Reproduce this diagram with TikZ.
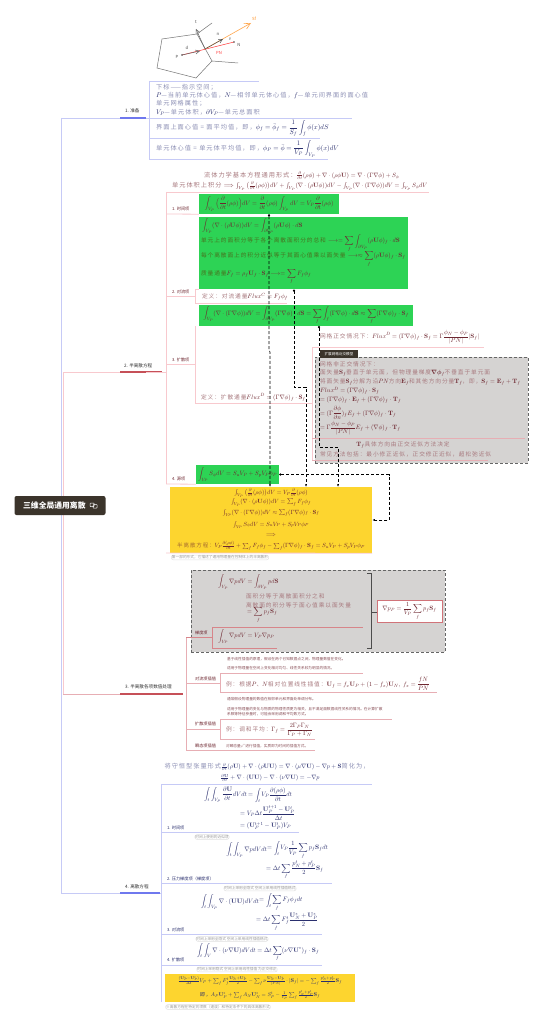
\documentclass[tikz,border=0pt]{standalone}
\usepackage{amsmath}
\usepackage[no-math]{fontspec}
\setmainfont[LetterSpace=16]{Noto Sans CJK SC}
\newfontfamily\plainf{Noto Sans CJK SC}
\usetikzlibrary{fit,arrows.meta,calc}
\definecolor{navym}{HTML}{2A2F6E}
\definecolor{maroonm}{HTML}{6E2730}
\definecolor{bluet}{HTML}{8D90B5}
\definecolor{redt}{HTML}{A8797E}
\definecolor{bluel}{HTML}{C6CAF6}
\definecolor{bluethick}{HTML}{6F78EE}
\definecolor{pinkl}{HTML}{F8C9CE}
\definecolor{redl}{HTML}{E7AEB4}
\definecolor{redthick}{HTML}{C65058}
\definecolor{darkbox}{HTML}{3B342B}
\definecolor{greenb}{HTML}{2DD355}
\definecolor{yellowb}{HTML}{FDD52F}
\definecolor{grayb}{HTML}{D5D3D2}
\definecolor{capt}{HTML}{9A9A9A}
\newcommand\ma[1]{{\fontsize{10.95}{13}\selectfont\textcolor{navym}{$\displaystyle #1$}}}
\newcommand\mr[1]{{\fontsize{10.95}{13}\selectfont\textcolor{maroonm}{$\displaystyle #1$}}}
\newcommand\pd{\partial}
\newcommand\bU{\mathbf{U}}
\newcommand\bS{\mathbf{S}}
\newcommand\bT{\mathbf{T}}
\newcommand\bE{\mathbf{E}}
\newcommand\gradp{\nabla\phi}
\newcommand\vint{\int_{V_P}}
\newcommand\sint{\int_{\pd V_P}}
\tikzset{
  eqb/.style={inner sep=0pt,scale=.62,text=bluet},
  eqr/.style={inner sep=0pt,scale=.62,text=redt},
  eqbs/.style={inner sep=0pt,scale=.58,text=bluet},
  eqrs/.style={inner sep=0pt,scale=.57,text=redt},
  eqrt/.style={inner sep=0pt,scale=.55,text=redt},
  small/.style={inner sep=0pt,scale=.37,font=\plainf,text=maroonm!80,anchor=west},
  lab/.style={inner sep=0pt,scale=.42,font=\plainf,text=maroonm},
  labb/.style={inner sep=0pt,scale=.42,font=\plainf,text=navym},
  capn/.style={inner sep=1.5pt,scale=.37,font=\plainf,text=capt,draw=black!12,rounded corners=2pt,line width=.5pt},
  head/.style={inner sep=0pt,scale=.46,font=\plainf,text=black!80},
  blue/.style={draw=bluel,line width=.8pt},
  pink/.style={draw=pinkl,line width=.8pt},
  red/.style={draw=redl,line width=.8pt},
  thickb/.style={draw=bluethick,line width=1.4pt},
  thickr/.style={draw=redthick,line width=1.4pt},
  panel/.style={inner sep=0pt,draw=none},
  dashlink/.style={draw=black,densely dashed,line width=.6pt},
  dotar/.style={{Circle[length=2.2pt]}-{Latex[length=2.6pt]}},
}
\begin{document}
\begin{tikzpicture}[x=1pt,y=-1pt]
\useasboundingbox (0,0) rectangle (542,1024);
\fill[white] (0,0) rectangle (542,1024);

% ---- trunks
\draw[blue] (61,118) -- (61,893);
\draw[pink] (63,372) -- (63,694);
\draw[pink] (63,372) -- (146,372);
\draw[red] (63,694) -- (183,694);
\draw[blue] (61,893) -- (161,893);
\draw[blue] (61,118) -- (146,118);
\draw[thickb] (120,118) -- (146,118);
\draw[thickr] (120,372) -- (162,372);
\draw[thickr] (120,694) -- (183,694);
\draw[thickb] (120,893) -- (160,893);

% ---- root
\node[fill=darkbox,rounded corners=2pt,inner sep=0pt,minimum width=91pt,minimum height=19pt] (root) at (60,505.5) {};
\node[inner sep=0pt,text=white,scale=.78,font=\plainf,anchor=west] (roott) at (23,505.5) {\textbf{三维全局通用离散}};
\draw[white,line width=.5pt,rounded corners=.6pt] (90,503) rectangle (94,506.5) (93,504.5) rectangle (97,508);

% ---- top sketch
\coordinate (pa) at (162,39); \coordinate (pb) at (197,34); \coordinate (pc) at (212,61);
\coordinate (pd) at (196,78); \coordinate (pe) at (157,68);
\coordinate (pf) at (212,23); \coordinate (pg) at (238,63);
\coordinate (P) at (182,55); \coordinate (N) at (234,42); \coordinate (F) at (205,49);
\coordinate (Sf) at (251,23); \coordinate (ntip) at (223,39); \coordinate (ttip) at (196,29); \coordinate (dtip) at (200,51);
\draw[black!55,line width=.5pt] (pa)--(pb)--(pc)--(pd)--(pe)--cycle;
\draw[black!55,line width=.5pt] (pb)--(pf) (pc)--(pg);
\draw[draw=red!75,line width=.6pt] (P)--(N);
\fill[black!70] (P) circle (.9pt) (N) circle (.9pt);
\draw[draw=orange!70,line width=.6pt,-{Straight Barb[length=6pt,width=6pt]}] (F)--(Sf);
\draw[black!70,line width=.5pt,-{Straight Barb[length=4pt,width=4pt]}] (F)--(ntip);
\draw[black!60,line width=.5pt,-{Straight Barb[length=4pt,width=4pt]}] (F)--(ttip);
\draw[black!60,line width=.5pt,-{Straight Barb[length=4pt,width=4pt]}] (P)--(dtip);
\node[labb,text=black!70] (lP) at (177,57) {P};
\node[labb,text=black!70] (ld) at (187,48) {d};
\node[labb,text=black!70] (lt) at (196,22) {t};
\node[labb,text=black!70] (ln) at (218,34) {n};
\node[labb,text=black!70] (lth) at (230,39) {$\theta$};
\node[labb,text=black!70] (lN) at (239,45) {N};
\node[labb,text=red!75] (lPN) at (219,53) {PN};
\node[labb,text=orange!85] (lSf) at (254,19) {Sf};

% ---- section 1
\node[head,anchor=west] (h1) at (125,111) {1. 准备};
\draw[blue] (149,81) -- (149,159);
\draw[blue] (149,81) -- (259,81);
\draw[blue] (146,118) -- (352,118);
\draw[blue] (149,138) -- (320,138);
\draw[blue] (149,159) -- (328,159);
\node[eqb,anchor=west] (a1) at (156,87) {下标——指示空间；};
\node[eqb,anchor=west] (a2) at (156,95.5) {\ma{P}—当前单元体心值，\ma{N}—相邻单元体心值，\ma{f}—单元间界面的面心值};
\node[eqb,anchor=west] (a3) at (156,103.5) {单元网格属性；};
\node[eqb,anchor=west] (a4) at (156,112) {\ma{V_P}—单元体积，\ma{\pd V_P}—单元总面积};
\node[eqb,anchor=west] (a5) at (156,128.5) {界面上面心值 = 面平均值，即，\ma{\phi_f=\bar\phi_f=\frac{1}{S_f}\int_f\phi(x)dS}};
\node[eqb,anchor=west] (a6) at (156,149) {单元体心值 = 单元体平均值，即，\ma{\phi_P=\bar\phi=\frac{1}{V_P}\vint\phi(x)dV}};

% ---- section 2
\node[head,anchor=west] (h2) at (124,366) {2. 半离散方程};
\node[eqr,anchor=west] (b1) at (204,175.5) {流体力学基本方程通用形式：\textcolor{maroonm}{$\displaystyle\tfrac{\pd}{\pd t}(\rho\phi)+\nabla\cdot(\rho\phi\bU)=\nabla\cdot(\Gamma\nabla\phi)+S_\phi$}};
\node[eqr,anchor=west] (b2) at (172,186) {单元体积上积分 \textcolor{maroonm}{$\displaystyle\Longrightarrow\textstyle\int_{V_P}\big(\tfrac{\pd}{\pd t}(\rho\phi)\big)dV+\int_{V_P}(\nabla\cdot(\rho\bU\phi))dV-\int_{V_P}(\nabla\cdot(\Gamma\nabla\phi))dV=\int_{V_P}S_\phi dV$}};
\draw[pink] (166,192) -- (166,484);
\draw[pink] (166,192) -- (429,192);
\draw[pink] (146,372) -- (166,372);

\node[panel,fill=greenb,fit={(199,194)(339,214)}] (g1) {};
\node[panel,fill=greenb,fit={(199,217)(408,289)}] (g2) {};
\node[panel,fill=greenb,fit={(199,305)(413,326)}] (g3) {};
\node[panel,fill=greenb,fit={(196,465)(279,484)}] (g4) {};
\node[panel,fill=yellowb,fit={(170,487)(372,553)}] (y1) {};

\node[lab,anchor=west] (l1) at (172,209) {1. 时间项};
\draw[pink] (166,214) -- (g1.south west);
\node[eqrs,text=maroonm] (c1) at (269,204) {\mr{\vint\Big(\frac{\pd}{\pd t}(\rho\phi)\Big)dV=\frac{\pd}{\pd t}(\rho\phi)\vint dV=V_P\frac{\pd}{\pd t}(\rho\phi)}};

\node[eqrs,anchor=west] (c2) at (202,226) {\mr{\vint(\nabla\cdot(\rho\bU\phi))dV=\sint(\rho\bU\phi)\cdot d\bS}};
\node[eqrs,anchor=west,text=maroonm!65!green] (c3) at (201,243) {单元上的面积分等于各个离散面积分的总和 \mr{\longrightarrow=\sum_f\int_{\pd V_P}(\rho\bU\phi)_f\cdot d\bS}};
\node[eqrs,anchor=west,text=maroonm!65!green] (c4) at (201,259) {每个离散面上的积分近似等于其面心值乘以面矢量 \mr{\longrightarrow\approx\sum_f(\rho\bU\phi)_f\cdot\bS_f}};
\node[eqrs,anchor=west,text=maroonm!65!green] (c5) at (201,276.5) {质量通量\mr{F_f=\rho_f\bU_f\cdot\bS_f\longrightarrow=\sum_f F_f\phi_f}};

\node[lab,anchor=west] (l2) at (172,292) {2. 对流项};
\draw[pink] (166,296) -- (195,296);
\draw[pink] (195,289) -- (195,303) (195,289) -- (199,289);
\draw[pink] (195,303) -- (287,303);
\node[eqrs,anchor=west] (c6) at (202,297) {定义：对流通量\mr{Flux^C=F_f\phi_f}};

\node[eqrs,text=maroonm] (c7) at (306,315.5) {\mr{\vint(\nabla\cdot(\Gamma\gradp))dV=\sint(\Gamma\gradp)\cdot d\bS=\sum_f\int_f(\Gamma\gradp)\cdot d\bS\approx\sum_f(\Gamma\gradp)_f\cdot\bS_f}};

\node[lab,anchor=west] (l3) at (172,360) {3. 扩散项};
\draw[pink] (166,364) -- (195,364);
\draw[pink] (195,326) -- (195,403);
\draw[pink] (195,403) -- (312,403);
\node[eqrs,anchor=west] (c8) at (201,397.5) {定义：扩散通量\mr{Flux^D=(\Gamma\gradp)_f\cdot\bS_f}};
\draw[pink] (312,347) -- (312,460);
\draw[pink] (312,347) -- (484,347);
\node[eqrs,anchor=west] (c9) at (320,337) {网格正交情况下：\mr{Flux^D=(\Gamma\gradp)_f\cdot\bS_f=\Gamma\frac{\phi_N-\phi_P}{|PN|}|\bS_f|}};

\node[panel,fill=grayb,draw=black!60,densely dashed,line width=.6pt,fit={(315,357)(528,463)}] (grayA) {};
\node[panel,fill=darkbox,fit={(320,350)(358,357.5)}] (tag) {};
\node[inner sep=0pt,scale=.36,font=\plainf,text=white] (tagt) at (tag.center) {扩展网格近交模型};
\node[eqrs,anchor=west] (d1) at (320,364.5) {网格非正交情况下：};
\node[eqrs,anchor=west] (d2) at (320,373) {面矢量\mr{\bS_f}垂直于单元面，但物理量梯度\mr{\boldsymbol{\nabla}\boldsymbol{\phi}_f}不垂直于单元面};
\node[eqrs,anchor=west] (d3) at (320,382) {将面矢量\mr{\bS_f}分解为沿\mr{PN}方向\mr{\bE_f}和其他方向分量\mr{\bT_f}，即，\mr{\bS_f=\bE_f+\bT_f}};
\node[eqrs,anchor=west] (d4) at (320,391) {\mr{Flux^D=(\Gamma\gradp)_f\cdot\bS_f}};
\node[eqrs,anchor=west] (d5) at (320,400) {\mr{=(\Gamma\gradp)_f\cdot\bE_f+(\Gamma\gradp)_f\cdot\bT_f}};
\node[eqrs,anchor=west] (d6) at (320,413) {\mr{=(\Gamma\frac{\pd\phi}{\pd n})_fE_f+(\Gamma\gradp)_f\cdot\bT_f}};
\node[eqrs,anchor=west] (d7) at (320,428) {\mr{=\Gamma\frac{\phi_N-\phi_P}{|PN|}E_f+(\nabla\phi)_f\cdot\bT_f}};
\draw[red] (312,438) -- (525,438);
\node[eqrs] (d8) at (403,445.5) {\mr{\bT_f}具体方向由正交近似方法决定};
\node[eqrs,anchor=west] (d9) at (320,454.5) {常见方法包括：最小修正近似，正交修正近似，超松弛近似};
\draw[red] (312,460) -- (488,460);

\node[lab,anchor=west] (l4) at (172,479) {4. 源项};
\draw[pink] (166,484) -- (g4.south west);
\node[eqrs,text=maroonm] (c10) at (237.5,474.5) {\mr{\vint S_\phi dV=S_uV_P+S_pV_P\phi_P}};

\node[eqrt] (e1) at (271,493) {\mr{\textstyle\int_{V_P}\big(\frac{\pd}{\pd t}(\rho\phi)\big)dV=V_P\frac{\pd}{\pd t}(\rho\phi)}};
\node[eqrt] (e2) at (271,502.5) {\mr{\textstyle\int_{V_P}(\nabla\cdot(\rho\bU\phi))dV=\sum_f F_f\phi_f}};
\node[eqrt] (e3) at (271,513) {\mr{\textstyle\int_{V_P}(\nabla\cdot(\Gamma\gradp))dV\approx\sum_f(\Gamma\gradp)_f\cdot\bS_f}};
\node[eqrt] (e4) at (271,525) {\mr{\textstyle\int_{V_P}S_\phi dV=S_uV_P+S_pV_P\phi_P}};
\node[eqrt] (e5) at (271,535) {\mr{\Longrightarrow}};
\node[eqrt,text=maroonm!60!yellowb] (e6) at (271,546) {半离散方程：\mr{\textstyle V_P\frac{\pd(\rho\phi)}{\pd t}+\sum_f F_f\phi_f-\sum_f(\Gamma\gradp)_f\cdot\bS_f=S_uV_P+S_pV_P\phi_P}};
\draw[pink] (166,553) -- (y1.south east);
\node[capn] (n1) at (220,557.5) {第一部的形式，它描述了通用物理量在控制体上的半离散形};

% ---- dashed links
\coordinate (s1) at (g1.south);
\coordinate (s2) at (294,289.5);
\coordinate (s3) at (319,326);
\coordinate (s4) at (g4.east);
\coordinate (t1) at (270,487);
\coordinate (t2) at (306,487);
\coordinate (t3) at (338,487);
\coordinate (t4) at (y1.east);
\draw[dashlink,dotar] (s1) -- (269,350) -- (270,352) -- (t1);
\draw[dashlink,dotar] (s2) -- (294,387) -- (306,387) -- (t2);
\draw[dashlink,dotar] (s3) -- (319,447) -- (338,447) -- (t3);
\draw[dashlink,dotar] (s4) -- (389,474.5) -- (389,520) -- (t4);

% ---- section 3
\node[head,anchor=west] (h3) at (125,687) {3. 半离散各项数值处理};
\draw[red] (186,637) -- (186,750);
\draw[red] (186,683) -- (220,683);
\draw[red] (186,729) -- (220,729);
\draw[red] (186,750) -- (315,750);
\node[panel,fill=grayb,draw=black!60,densely dashed,line width=.6pt,fit={(191,570)(445,652)}] (grayB) {};
\node[eqrs,text=maroonm,anchor=west] (f1) at (218,582) {\mr{\vint\nabla pdV=\sint p d\bS}};
\node[eqrs,anchor=west] (f2) at (246,596) {面积分等于离散面积分之和};
\node[eqrs,anchor=west] (f3) at (246,605) {离散面的积分等于面心值乘以面矢量};
\node[eqrs,anchor=west] (f4) at (247,615) {\mr{=\sum_f p_f\bS_f}};
\draw[redthick!70,line width=.8pt] (212,627) -- (363,627);
\draw[redthick!70,line width=.8pt] (212,627) -- (212,648) -- (277,648);
\draw[redthick!70,line width=.8pt] (186,637) -- (212,637);
\node[eqrs,text=maroonm,anchor=west] (f5) at (218,636.5) {\mr{\vint\nabla pdV=V_P\nabla p_P}};
\node[lab,anchor=west] (l5) at (195,633) {梯度项};
\draw[black!70,line width=.7pt] (367,573) -- (371,573) -- (371,648) -- (367,648) (371,612) -- (377,612);
\node[panel,fill=white,draw=redthick!80,line width=.8pt,fit={(377,600)(442,622)}] (rbox) {};
\node[eqrs,text=maroonm] (f6) at (rbox.center) {\mr{\nabla p_P=\frac{1}{V_P}\sum_f p_f\bS_f}};

\node[small] (s3a) at (227,659.5) {基于线性插值的原理，假设在两个已知数据点之间，物理量数值在变化。};
\node[small] (s3b) at (227,668.5) {适用于物理量在空间上变化相对均匀、线性关系较为明显的情况。};
\node[lab,anchor=west] (l6) at (195,679) {对流项插值};
\draw[red] (220,673) -- (363,673) (220,673) -- (220,692.5) -- (437,692.5);
\node[eqrs,anchor=west] (f7) at (226,684) {例：根据\mr{P}、\mr{N}相对位置线性插值：\mr{\bU_f=f_x\bU_P+(1-f_x)\bU_N,\;f_x=\frac{fN}{PN}}};
\node[small] (s3c) at (227,699.5) {通常假设物理量的数值在相邻单元和界面处单调分布。};
\node[small] (s3d) at (227,709) {适用于物理量的变化与物质的物理性质更为相关，且不满足面数据线性关系的情况。在计算扩散};
\node[small] (s3e) at (227,714.5) {系数等特征参量时，可能会采用调和平均数方式。};
\draw[red] (220,719) -- (392,719) (220,719) -- (220,739) -- (315,739);
\node[lab,anchor=west] (l7) at (195,724) {扩散项插值};
\node[eqrs,anchor=west] (f8) at (226,730) {例：调和平均：\mr{\Gamma_f=\frac{2\Gamma_P\Gamma_N}{\Gamma_P+\Gamma_N}}};
\node[lab,anchor=west] (l8) at (195,746) {瞬态项插值};
\node[small] (s3f) at (226,746) {对瞬态量$\psi^n$进行插值，实质即为时间的插值方式。};

% ---- section 4
\node[head,anchor=west] (h4) at (125,886.5) {4. 离散方程};
\node[eqb] (g0a) at (267,767) {将守恒型张量形式\textcolor{navym}{$\displaystyle\tfrac{\pd}{\pd t}(\rho\bU)+\nabla\cdot(\rho\bU\bU)=\nabla\cdot(\mu\nabla\bU)-\nabla p+\bS$}简化为，};
\node[eqb] (g0b) at (270,778) {\textcolor{navym}{$\displaystyle\tfrac{\pd\bU}{\pd t}+\nabla\cdot(\bU\bU)-\nabla\cdot(\nu\nabla\bU)=-\nabla p$}};
\draw[blue] (161,784) -- (161,1002);
\draw[blue] (161,784) -- (372,784);
\draw[blue] (161,832) -- (299,832);
\draw[blue] (161,883) -- (332,883);
\draw[blue] (161,934) -- (322,934);
\draw[blue] (161,965) -- (322,965);
\node[labb,anchor=west] (m1) at (167,827.5) {1. 时间项};
\node[eqbs,anchor=east] (g1a) at (247,795) {\ma{\int_t\int_{V_P}\frac{\pd\bU}{\pd t}dVdt}};
\node[eqbs,anchor=west] (g1b) at (248,795) {\ma{=\int_t V_P\frac{\pd(\rho\phi)}{\pd t}dt}};
\node[eqbs,anchor=west] (g1c) at (240,813) {\ma{=V_P\Delta t\frac{\bU_P^{t+1}-\bU_P^t}{\Delta t}}};
\node[eqbs,anchor=west] (g1d) at (240,826) {\ma{=(\bU_P^{t+1}-\bU_P^t)V_P}};
\node[capn] (n2) at (212,837) {时间上使用的近似项};
\node[eqbs,anchor=east] (g2a) at (267,850) {\ma{\int_t\int_{V_P}\nabla pdVdt}};
\node[eqbs,anchor=west] (g2b) at (267,850) {\ma{=\int_t V_P\frac{1}{V_P}\sum_f p_f\bS_fdt}};
\node[eqbs,anchor=west] (g2c) at (266,870) {\ma{=\Delta t\sum_f\frac{p_N^t+p_P^t}{2}\bS_f}};
\node[labb,anchor=west] (m2) at (167,879) {2. 压力梯度项（梯度项）};
\node[capn] (n3) at (260,888.5) {时间上采用全隐式 空间上采用线性插值格式};
\node[eqbs,anchor=east] (g3a) at (259,902) {\ma{\int_t\int_{V_P}\nabla\cdot(\bU\bU)dVdt}};
\node[eqbs,anchor=west] (g3b) at (259,902) {\ma{=\int_t\sum_f F_f\phi_fdt}};
\node[eqbs,anchor=west] (g3c) at (256,922) {\ma{=\Delta t\sum_f F_f^t\frac{\bU_N^*+\bU_P^*}{2}}};
\node[labb,anchor=west] (m3) at (167,930) {3. 对流项};
\node[capn] (n4) at (232,939) {时间上采用全隐式 空间上采用线性插值格式};
\node[eqbs] (g4a) at (258,952.5) {\ma{\int_t\int_{V}\nabla\cdot(\nu\nabla\bU)dVdt=\Delta t\sum_f(\nu\nabla\bU^*)_f\cdot\bS_f}};
\node[labb,anchor=west] (m4) at (167,960) {4. 扩散项};
\node[capn] (n5) at (237,969.5) {时间上采用隐式 空间上采用线性插值 为正交修正};
\node[panel,fill=yellowb,fit={(165,974)(355,1002)}] (y2) {};
\node[eqrt,scale=.91,text=navym] (y2a) at (260,981) {\ma{\textstyle\frac{(\bU_P^*-\bU_P^t)}{\Delta t}V_P+\sum_f F_f^t\frac{\bU_N^*+\bU_P^*}{2}-\sum_f\nu\frac{\bU_N^*-\bU_P^*}{|PN|}\cdot|\bS_f|=-\sum_f\frac{p_N^t+p_P^t}{2}\bS_f}};
\node[eqrt,scale=.91,text=navym] (y2b) at (260,995) {即，\ma{\textstyle A_P\bU_P^*+\sum_f A_N\bU_N^*=S_P^t-\frac{1}{V_P}\sum_f\frac{p_N^t+p_P^t}{2}\bS_f}};
\node[capn] (n6) at (218,1007) {※离散方程在特定的项数（速度）和特定条件下的具体离散形式};
\end{tikzpicture}
\end{document}
